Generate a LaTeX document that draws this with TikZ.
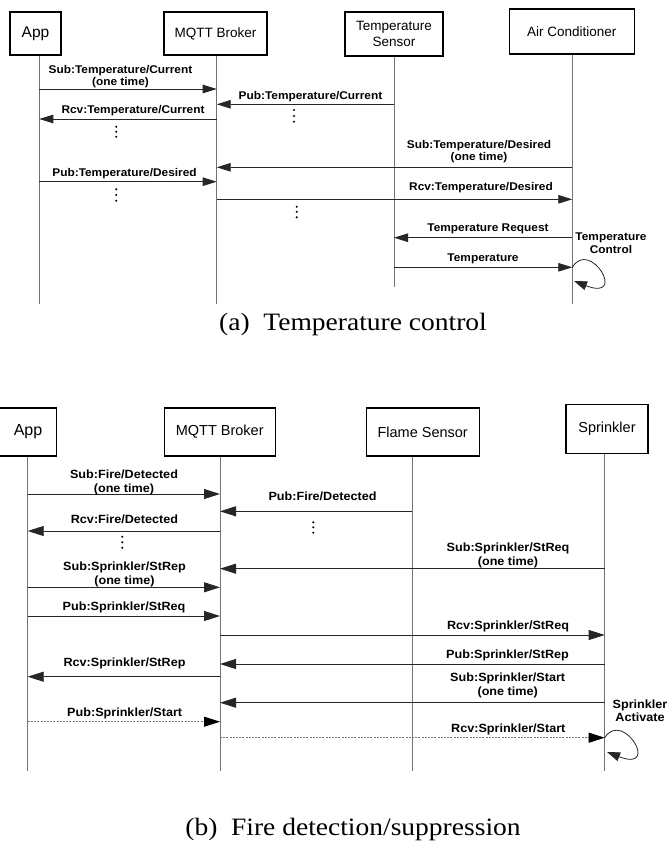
\documentclass[tikz,border=0pt]{standalone}
\usepackage{fontspec}
\setmainfont{Liberation Sans}
\newfontfamily\lblfont[FakeStretch=1.06]{Liberation Sans}
\newfontfamily\capfont[FakeStretch=1.1]{Liberation Serif}
\usetikzlibrary{arrows.meta}
\tikzset{
  box/.style={draw=black, line width=1.3pt, fill=white, inner sep=0pt, align=center},
  boxA/.style={box, font=\fontsize{13.5}{15.5}\selectfont},
  boxB/.style={box, font=\fontsize{14.5}{16.5}\selectfont},
  life/.style={draw=black!55, line width=0.8pt},
  msgA/.style={draw=black!85, line width=0.8pt, -{Triangle[length=14pt,width=8.5pt]}},
  msgB/.style={draw=black!85, line width=0.8pt, -{Triangle[length=16pt,width=10pt]}},
  dmsgB/.style={draw=black!55, line width=0.8pt, dash pattern=on 2pt off 1.2pt, -{Triangle[length=16pt,width=10pt,color=black]}},
  loopA/.style={draw=black!85, line width=0.8pt, -{Triangle[length=13pt,width=9pt]}},
  lblA/.style={font=\lblfont\bfseries\fontsize{11.2}{12}\selectfont, align=center, anchor=base, inner sep=0pt},
  lblB/.style={font=\lblfont\bfseries\fontsize{11.9}{14}\selectfont, align=center, anchor=base, inner sep=0pt},
  selfA/.style={lblA, font=\lblfont\bfseries\fontsize{11.2}{12.6}\selectfont},
  selfB/.style={lblB, font=\lblfont\bfseries\fontsize{11.9}{13.4}\selectfont},
  dotc/.style={fill=black, circle, inner sep=0pt, minimum size=2.3pt},
  captxt/.style={font=\capfont\fontsize{25}{28}\selectfont, anchor=base, inner sep=0pt}
}
\begin{document}
\begin{tikzpicture}[x=1pt,y=-1pt]
\useasboundingbox[fill=white] (0,0) rectangle (668,846);

% ---------------- (a) Temperature control ----------------
\node[boxA, minimum width=51pt, minimum height=43pt, font=\fontsize{15.5}{17}\selectfont] (aApp) at (35.5,33.5) {App};
\node[boxA, minimum width=103pt, minimum height=43pt] (aBrk) at (215.5,33.5) {MQTT Broker};
\node[boxA, minimum width=98pt, minimum height=44pt] (aSen) at (394,34) {Temperature\\Sensor};
\node[boxA, minimum width=125pt, minimum height=45pt] (aAC) at (571.8,31.5) {Air Conditioner};

\coordinate (eApp) at (39.3,304);
\coordinate (eBrk) at (216.7,304);
\coordinate (eSen) at (394,287);
\coordinate (eAC) at (572.3,304);

\draw[life] (aApp.south -| eApp) -- (eApp);
\draw[life] (aBrk.south -| eBrk) -- (eBrk);
\draw[life] (aSen.south -| eSen) -- (eSen);
\draw[life] (aAC.south -| eAC) -- (eAC);

\coordinate (r1) at (0,89);
\coordinate (r2) at (0,104.3);
\coordinate (r3) at (0,119);
\coordinate (r4) at (0,167.3);
\coordinate (r5) at (0,181.7);
\coordinate (r6) at (0,199.3);
\coordinate (r7) at (0,237.7);
\coordinate (r8) at (0,267.3);

\draw[msgA] (eApp |- r1) -- (eBrk |- r1);
\draw[msgA] (eSen |- r2) -- (eBrk |- r2);
\draw[msgA] (eBrk |- r3) -- (eApp |- r3);
\draw[msgA] (eAC |- r4) -- (eBrk |- r4);
\draw[msgA] (eApp |- r5) -- (eBrk |- r5);
\draw[msgA] (eBrk |- r6) -- (eAC |- r6);
\draw[msgA] (eAC |- r7) -- (eSen |- r7);
\draw[msgA] (eSen |- r8) -- (eAC |- r8);

% multi-line labels: anchor=base is the baseline of the last line
\node[lblA] (la1) at (120.5,85.5) {Sub:Temperature/Current\\(one time)};
\node[lblA] (la2) at (310.5,99) {Pub:Temperature/Current};
\node[lblA] (la3) at (133,113.3) {Rcv:Temperature/Current};
\node[lblA] (la4) at (479,160.5) {Sub:Temperature/Desired\\(one time)};
\node[lblA] (la5) at (124.5,176.7) {Pub:Temperature/Desired};
\node[lblA] (la6) at (481,190.7) {Rcv:Temperature/Desired};
\node[lblA] (la7) at (488,231.7) {Temperature Request};
\node[lblA] (la8) at (483,261.7) {Temperature};
\node[selfA] (la9) at (611,253.3) {Temperature\\Control};

\foreach \yy in {126.7,131.7,136.7} \node[dotc] at (116.3,\yy) {};
\foreach \yy in {110,116,121.7} \node[dotc] at (294,\yy) {};
\foreach \yy in {189.3,195,200.7} \node[dotc] at (116.3,\yy) {};
\foreach \yy in {206.7,211.7,217.3} \node[dotc] at (296.7,\yy) {};

\coordinate (lpAs) at (572.3,267.3);
\coordinate (lpAe) at (574,281);
\draw[loopA] (lpAs) .. controls (590,238) and (628,302) .. (lpAe);

\node[captxt] (capA) at (353,330) {(a)\ \ Temperature control};

% ---------------- (b) Fire detection/suppression ----------------
\node[boxB, minimum width=57pt, minimum height=48pt, font=\fontsize{16}{18}\selectfont] (bApp) at (28,432) {App};
\node[boxB, minimum width=111pt, minimum height=48pt] (bBrk) at (219.7,432) {MQTT Broker};
\node[boxB, minimum width=113pt, minimum height=48pt] (bFl) at (422.7,432) {Flame Sensor};
\node[boxB, minimum width=82pt, minimum height=49pt] (bSp) at (607,428.8) {Sprinkler};

\coordinate (fApp) at (27.7,771);
\coordinate (fBrk) at (220,771);
\coordinate (fFl) at (412.3,771);
\coordinate (fSp) at (604.7,771);

\draw[life] (bApp.south -| fApp) -- (fApp);
\draw[life] (bBrk.south -| fBrk) -- (fBrk);
\draw[life] (bFl.south -| fFl) -- (fFl);
\draw[life] (bSp.south -| fSp) -- (fSp);

\coordinate (s1) at (0,494);
\coordinate (s2) at (0,511.3);
\coordinate (s3) at (0,531);
\coordinate (s4) at (0,568.7);
\coordinate (s5) at (0,587.3);
\coordinate (s6) at (0,616);
\coordinate (s7) at (0,635);
\coordinate (s8) at (0,664);
\coordinate (s9) at (0,676.7);
\coordinate (s10) at (0,702.7);
\coordinate (s11) at (0,721.7);
\coordinate (s12) at (0,737.7);

\draw[msgB] (fApp |- s1) -- (fBrk |- s1);
\draw[msgB] (fFl |- s2) -- (fBrk |- s2);
\draw[msgB] (fBrk |- s3) -- (fApp |- s3);
\draw[msgB] (fSp |- s4) -- (fBrk |- s4);
\draw[msgB] (fApp |- s5) -- (fBrk |- s5);
\draw[msgB] (fApp |- s6) -- (fBrk |- s6);
\draw[msgB] (fBrk |- s7) -- (fSp |- s7);
\draw[msgB] (fSp |- s8) -- (fBrk |- s8);
\draw[msgB] (fBrk |- s9) -- (fApp |- s9);
\draw[msgB] (fSp |- s10) -- (fBrk |- s10);
\draw[dmsgB] (fApp |- s11) -- (fBrk |- s11);
\draw[dmsgB] (fBrk |- s12) -- (fSp |- s12);

\node[lblB] (lb1) at (124,492) {Sub:Fire/Detected\\(one time)};
\node[lblB] (lb2) at (322.5,500.7) {Pub:Fire/Detected};
\node[lblB] (lb3) at (124.5,523.3) {Rcv:Fire/Detected};
\node[lblB] (lb4) at (508,565) {Sub:Sprinkler/StReq\\(one time)};
\node[lblB] (lb5) at (124.5,584) {Sub:Sprinkler/StRep\\(one time)};
\node[lblB] (lb6) at (124,610.7) {Pub:Sprinkler/StReq};
\node[lblB] (lb7) at (508,629.3) {Rcv:Sprinkler/StReq};
\node[lblB] (lb8) at (507.5,658.3) {Pub:Sprinkler/StRep};
\node[lblB] (lb9) at (124.5,666.7) {Rcv:Sprinkler/StRep};
\node[lblB] (lb10) at (507.7,695.7) {Sub:Sprinkler/Start\\(one time)};
\node[lblB] (lb11) at (124.7,716) {Pub:Sprinkler/Start};
\node[lblB] (lb12) at (508.3,732.7) {Rcv:Sprinkler/Start};
\node[selfB] (lb13) at (640,721.7) {Sprinkler\\Activate};

\foreach \yy in {522.3,527.3,532.7} \node[dotc] at (313.3,\yy) {};
\foreach \yy in {536.7,542.3,547.7} \node[dotc] at (122.3,\yy) {};

\coordinate (lpBs) at (604.7,737.7);
\coordinate (lpBe) at (607,752);
\draw[loopA] (lpBs) .. controls (623,709) and (661,773) .. (lpBe);

\node[captxt] (capB) at (353,835) {(b)\ \ Fire detection/suppression};
\end{tikzpicture}
\end{document}
